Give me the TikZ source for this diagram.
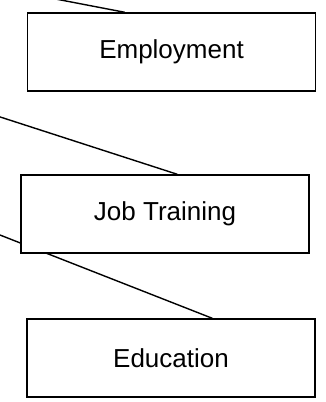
\documentclass[tikz,border=0pt]{standalone}
\usepackage{fontspec}
\setmainfont{Liberation Sans}
\usetikzlibrary{backgrounds}
\tikzset{
  box/.style={draw, line width=1.4pt, fill=white, minimum width=288pt, minimum height=78pt, inner sep=0pt, font=\fontsize{26}{30}\selectfont},
  link/.style={line width=1.4pt}
}
\begin{document}
\begin{tikzpicture}[x=1pt,y=1pt]
\useasboundingbox (0,0) rectangle (326,402);
\clip (0,0) rectangle (326,402);
\node[box] (emp) at (171.5,350) {Employment};
\node[box] (job) at (165,188) {Job Training};
\node[box] (edu) at (171,44) {Education};
\coordinate (c1) at (-10,415.6);
\coordinate (c2) at (-10,288.3);
\coordinate (c3) at (-10,170.9);
\begin{scope}[on background layer]
\draw[link] (c1) -- ([xshift=98pt]emp.north west);
\draw[link] (c2) -- ([xshift=157pt]job.north west);
\draw[link] (c3) -- ([xshift=186pt]edu.north west);
\end{scope}
\end{tikzpicture}
\end{document}
